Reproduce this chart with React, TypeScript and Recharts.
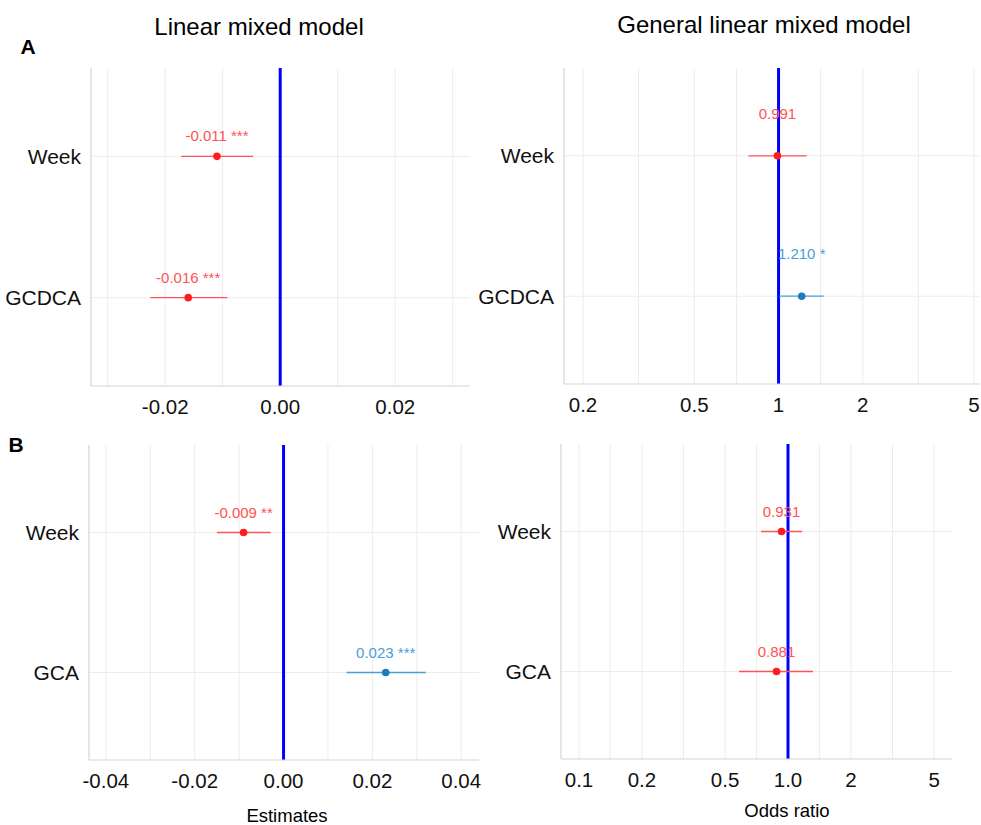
import React from "react";
import {
  ScatterChart,
  Scatter,
  XAxis,
  YAxis,
  ErrorBar,
  ReferenceLine,
} from "recharts";

const rowsA = ["Week", "GCDCA"];
const rowsB = ["Week", "GCA"];

// A: linear mixed model (estimates)
const lmmAEst = [-0.011, -0.016];
const lmmALow = [-0.0172, -0.0226];
const lmmAHigh = [-0.0047, -0.0092];
const lmmASig = ["***", "***"];

// A: general linear mixed model (odds ratios)
const glmmAEst = [0.991, 1.21];
const glmmALow = [0.781, 1.005];
const glmmAHigh = [1.26, 1.45];
const glmmASig = ["", "*"];

// B: linear mixed model
const lmmBEst = [-0.009, 0.023];
const lmmBLow = [-0.015, 0.0142];
const lmmBHigh = [-0.0029, 0.032];
const lmmBSig = ["**", "***"];

// B: general linear mixed model
const glmmBEst = [0.931, 0.881];
const glmmBLow = [0.743, 0.583];
const glmmBHigh = [1.167, 1.317];
const glmmBSig = ["", ""];

const linTicksA = [-0.02, 0, 0.02];
const linGridA = [-0.03, -0.02, -0.01, 0, 0.01, 0.02, 0.03];
const linTicksB = [-0.04, -0.02, 0, 0.02, 0.04];
const linGridB = [-0.04, -0.03, -0.02, -0.01, 0, 0.01, 0.02, 0.03, 0.04];
const logTicksA = [0.2, 0.5, 1, 2, 5];
const logTickLabelsA = ["0.2", "0.5", "1", "2", "5"];
const logGridA = [0.2, 0.316, 0.5, 0.708, 1, 1.413, 2, 3.162, 5];
const logTicksB = [0.1, 0.2, 0.5, 1, 2, 5];
const logTickLabelsB = ["0.1", "0.2", "0.5", "1.0", "2", "5"];
const logGridB = [0.1, 0.141, 0.2, 0.316, 0.5, 0.708, 1, 1.413, 2, 3.162, 5];

const FONT = "'Liberation Sans', Arial, sans-serif";
const RED = "#ff1c1c";
const RED_LIGHT = "#ff5252";
const BLUE = "#1b7dbd";
const BLUE_LIGHT = "#45a0d6";

type PanelProps = {
  left: number;
  top: number;
  width: number;
  height: number;
  yw: number;
  mr: number;
  rows: string[];
  est: number[];
  low: number[];
  high: number[];
  sig: string[];
  refValue: number;
  domain: [number, number];
  ticks: number[];
  tickLabels?: string[];
  grid: number[];
  log?: boolean;
  labelLift?: number;
};

function Panel(p: PanelProps) {
  const lift = p.labelLift ?? 15;
  const series = p.rows.map((name, i) => {
    const positive = p.est[i] > p.refValue;
    return {
      name,
      color: positive ? BLUE : RED,
      light: positive ? BLUE_LIGHT : RED_LIGHT,
      data: [
        {
          x: p.est[i],
          y: i + 1,
          err: [p.est[i] - p.low[i], p.high[i] - p.est[i]],
          label: (p.est[i].toFixed(3) + " " + p.sig[i]).trim(),
        },
      ],
    };
  });

  const fmt = (v: number) => {
    if (p.tickLabels) {
      const k = p.ticks.indexOf(v);
      return k >= 0 ? p.tickLabels[k] : String(v);
    }
    return v.toFixed(2);
  };

  return (
    <div style={{ position: "absolute", left: p.left, top: p.top }}>
      <ScatterChart
        width={p.width}
        height={p.height}
        margin={{ top: 8, right: p.mr, bottom: 0, left: 0 }}
      >
        <XAxis
          type="number"
          dataKey="x"
          scale={p.log ? "log" : "linear"}
          domain={p.domain}
          allowDataOverflow
          ticks={p.ticks}
          tickFormatter={fmt}
          height={40}
          tickLine={false}
          tickMargin={7}
          axisLine={{ stroke: "#d4d4d4", strokeWidth: 1.2 }}
          tick={{ fontSize: 20.5, fill: "#111", fontFamily: FONT }}
          interval={0}
        />
        <YAxis
          type="number"
          dataKey="y"
          domain={[0.375, 2.625]}
          reversed
          ticks={[1, 2]}
          tickFormatter={(v: number) => p.rows[v - 1] ?? ""}
          width={p.yw}
          tickLine={false}
          tickMargin={4}
          axisLine={{ stroke: "#d4d4d4", strokeWidth: 1.2 }}
          tick={{ fontSize: 21, fill: "#111", fontFamily: FONT }}
          interval={0}
        />
        {p.grid.map((g) => (
          <ReferenceLine key={"gx" + g} x={g} stroke="#ececec" strokeWidth={1} />
        ))}
        {[1, 2].map((g) => (
          <ReferenceLine key={"gy" + g} y={g} stroke="#ececec" strokeWidth={1} />
        ))}
        <ReferenceLine x={p.refValue} stroke="#0000ff" strokeWidth={3} />
        {series.map((s) => (
          <Scatter
            key={s.name}
            data={s.data}
            fill={s.color}
            isAnimationActive={false}
            shape={(props: any) => (
              <g>
                <circle cx={props.cx} cy={props.cy} r={3.8} fill={s.color} />
                <text
                  x={props.cx}
                  y={props.cy - lift}
                  textAnchor="middle"
                  fontSize={15}
                  fontFamily={FONT}
                  fill={s.light}
                >
                  {props.payload.label}
                </text>
              </g>
            )}
          >
            <ErrorBar
              dataKey="err"
              direction="x"
              width={0}
              stroke={s.light}
              strokeWidth={1.3}
              isAnimationActive={false}
            />
          </Scatter>
        ))}
      </ScatterChart>
    </div>
  );
}

const textStyle = (x: number, y: number, size: number, bold = false): React.CSSProperties => ({
  position: "absolute",
  left: x - 200,
  top: y - size * 0.6,
  width: 400,
  textAlign: "center",
  fontSize: size,
  fontWeight: bold ? "bold" : "normal",
  lineHeight: `${size * 1.2}px`,
  color: "#000",
  whiteSpace: "nowrap",
});

export default function App() {
  return (
    <div
      style={{
        position: "absolute",
        left: 0,
        top: 0,
        width: 981,
        height: 825,
        background: "#fff",
        fontFamily: FONT,
        overflow: "hidden",
      }}
    >
      <div style={textStyle(259, 27, 24)}>Linear mixed model</div>
      <div style={textStyle(764, 25, 24)}>General linear mixed model</div>
      <div style={textStyle(28, 47, 21, true)}>A</div>
      <div style={textStyle(16, 445, 21, true)}>B</div>

      <Panel
        left={0}
        top={60}
        width={490}
        height={366}
        yw={91}
        mr={20}
        rows={rowsA}
        est={lmmAEst}
        low={lmmALow}
        high={lmmAHigh}
        sig={lmmASig}
        refValue={0}
        domain={[-0.0329, 0.033]}
        ticks={linTicksA}
        grid={linGridA}
      />
      <Panel
        left={478}
        top={60}
        width={503}
        height={364}
        yw={86}
        mr={1}
        rows={rowsA}
        est={glmmAEst}
        low={glmmALow}
        high={glmmAHigh}
        sig={glmmASig}
        refValue={1}
        domain={[0.171, 5.25]}
        ticks={logTicksA}
        tickLabels={logTickLabelsA}
        grid={logGridA}
        log
        labelLift={37}
      />
      <Panel
        left={0}
        top={437}
        width={490}
        height={363}
        yw={89}
        mr={11}
        rows={rowsB}
        est={lmmBEst}
        low={lmmBLow}
        high={lmmBHigh}
        sig={lmmBSig}
        refValue={0}
        domain={[-0.0438, 0.044]}
        ticks={linTicksB}
        grid={linGridB}
      />
      <Panel
        left={490}
        top={436}
        width={491}
        height={363}
        yw={71}
        mr={29}
        rows={rowsB}
        est={glmmBEst}
        low={glmmBLow}
        high={glmmBHigh}
        sig={glmmBSig}
        refValue={1}
        domain={[0.082, 6.09]}
        ticks={logTicksB}
        tickLabels={logTickLabelsB}
        grid={logGridB}
        log
      />

      <div style={textStyle(287, 816, 18.5)}>Estimates</div>
      <div style={textStyle(787, 811, 18.5)}>Odds ratio</div>
    </div>
  );
}
